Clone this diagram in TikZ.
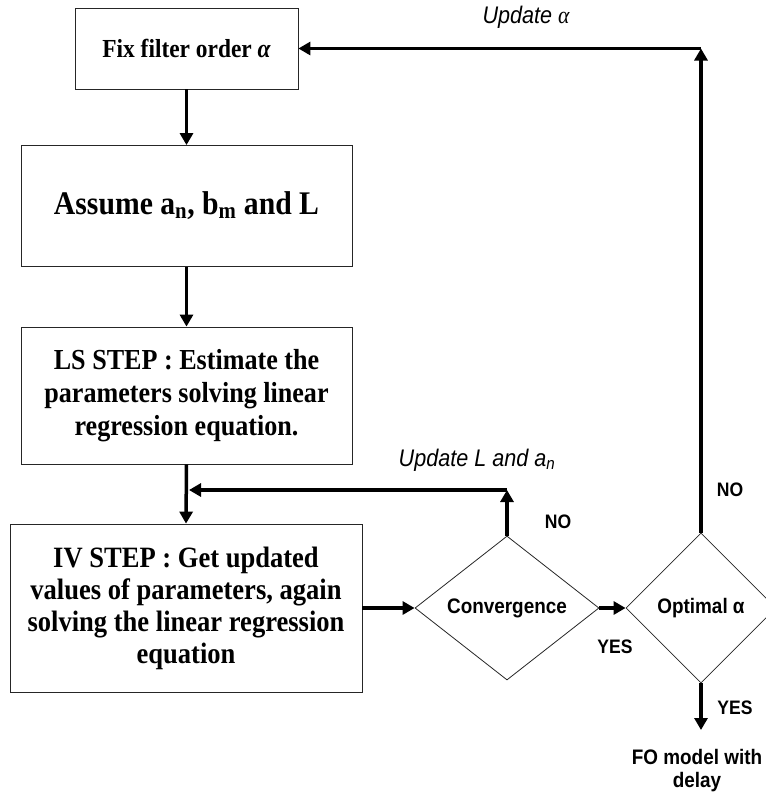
\documentclass[tikz,border=0pt]{standalone}
\usepackage{fontspec}
\setmainfont{Liberation Serif}[FakeStretch=0.9]
\newfontfamily\arialf{Liberation Sans}[FakeStretch=0.9]
\usetikzlibrary{shapes.geometric,arrows.meta}
\newcommand{\fs}[2]{\fontsize{#1}{#2}\selectfont}
\begin{document}
\begin{tikzpicture}[x=1pt,y=-1pt,
  box/.style={draw=black!85, line width=0.8pt, rectangle, align=center, inner sep=0pt, font=\bfseries},
  dia/.style={draw=black!85, line width=0.8pt, diamond, inner sep=0pt, font=\arialf\bfseries\fs{21}{24}},
  arr/.style={line width=3.5pt, -{Triangle[length=12pt,width=13pt]}},
  lbl/.style={inner sep=0pt, font=\arialf\bfseries\fs{19.5}{22}},
  ulbl/.style={inner sep=0pt, font=\arialf\itshape\fs{24}{26}}]
\useasboundingbox (0,0) rectangle (766,793);
\node[box, minimum width=223pt, minimum height=81pt, font=\bfseries\fs{26}{30}] (box1) at (186.5,48.5) {Fix filter order {\itshape α}};
\node[box, minimum width=331pt, minimum height=121pt, font=\bfseries\fs{33}{38}] (box2) at (186.5,206) {Assume a\textsubscript{n}, b\textsubscript{m} and L};
\node[box, minimum width=331pt, minimum height=137pt, font=\bfseries\fs{29}{33}] (box3) at (186.5,395.5) {LS STEP : Estimate the\\parameters solving linear\\regression equation.};
\node[box, minimum width=352pt, minimum height=168pt, font=\bfseries\fs{29.5}{32}] (box4) at (186,608) {IV STEP : Get updated\\values of parameters, again\\solving the linear regression\\equation};
\node[dia, minimum width=184pt, minimum height=144pt] (conv) at (507,608) {Convergence};
\node[dia, minimum width=150pt, minimum height=150pt] (opt) at (701,608) {Optimal α};
\coordinate (j) at (189,490);
\coordinate (c1) at (507,490);
\coordinate (c2) at (701,48.5);
\coordinate (endp) at (701,730);
\draw[arr] (box1.south) -- (box2.north);
\draw[arr] (box2.south) -- (box3.north);
\draw[arr] (box3.south) -- (box4.north);
\draw[arr] (conv.north) -- (c1);
\draw[arr] (c1) -- (j);
\draw[arr] (box4.east) -- (conv.west);
\draw[arr] (conv.east) -- (opt.west);
\draw[arr] (opt.north) -- (c2);
\draw[arr] (c2) -- (box1.east);
\draw[arr] (opt.south) -- (endp);
\node[ulbl] (u1) at (526,17) {Update {\rmfamily α}};
\node[ulbl] (u2) at (477,460) {Update L and a\textsubscript{n}};
\node[lbl] (no1) at (558,522) {NO};
\node[lbl] (no2) at (730,490) {NO};
\node[lbl] (yes1) at (615,647) {YES};
\node[lbl] (yes2) at (735,708) {YES};
\node[lbl, align=center, font=\arialf\bfseries\fs{21}{23}] (fo) at (697,771) {FO model with\\delay};
\end{tikzpicture}
\end{document}
